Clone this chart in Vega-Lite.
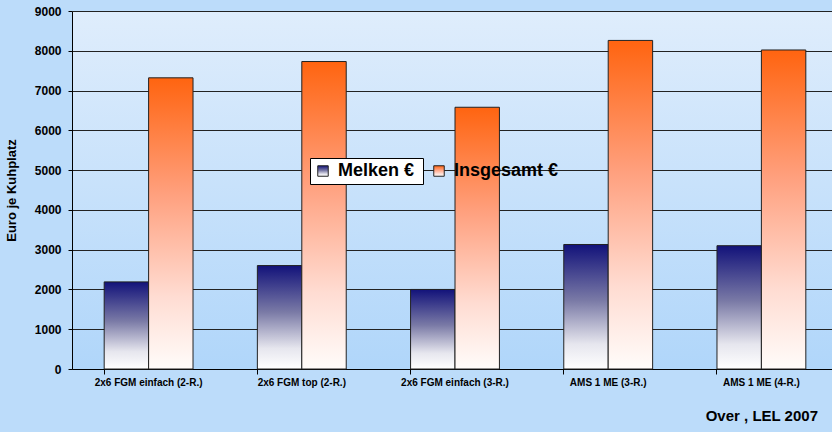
{
  "$schema": "https://vega.github.io/schema/vega-lite/v6.json",
  "autosize": {"type": "none"},
  "width": 766,
  "height": 358,
  "padding": {"left": 72, "top": 11, "right": 0, "bottom": 63},
  "background": "#bcdcfa",
  "data": {
    "values": [
      {"k": "2x6 FGM einfach (2-R.)", "s": "Melken €", "v": 2190},
      {"k": "2x6 FGM einfach (2-R.)", "s": "Insgesamt €", "v": 7320},
      {"k": "2x6 FGM top (2-R.)", "s": "Melken €", "v": 2600},
      {"k": "2x6 FGM top (2-R.)", "s": "Insgesamt €", "v": 7730},
      {"k": "2x6 FGM einfach (3-R.)", "s": "Melken €", "v": 2000},
      {"k": "2x6 FGM einfach (3-R.)", "s": "Insgesamt €", "v": 6580},
      {"k": "AMS 1 ME (3-R.)", "s": "Melken €", "v": 3130},
      {"k": "AMS 1 ME (3-R.)", "s": "Insgesamt €", "v": 8260},
      {"k": "AMS 1 ME (4-R.)", "s": "Melken €", "v": 3100},
      {"k": "AMS 1 ME (4-R.)", "s": "Insgesamt €", "v": 8020}
    ]
  },
  "title": {
    "text": "Over , LEL 2007",
    "orient": "bottom",
    "anchor": "end",
    "dx": -20,
    "offset": 22,
    "font": "Liberation Sans",
    "fontSize": 15,
    "fontWeight": "bold",
    "color": "#000000"
  },
  "encoding": {
    "x": {
      "field": "k",
      "type": "nominal",
      "sort": null,
      "title": null,
      "scale": {"paddingInner": 0.42, "paddingOuter": 0.21},
      "axis": {
        "labelAngle": 0,
        "bandPosition": 0,
        "tickSize": 5,
        "tickColor": "#000000",
        "domainColor": "#000000",
        "labelFont": "Liberation Sans",
        "labelFontSize": 10,
        "labelFontWeight": "bold",
        "labelColor": "#000000",
        "labelPadding": 3,
        "grid": false
      }
    },
    "xOffset": {"field": "s", "type": "nominal", "scale": {"domain": ["Melken €", "Insgesamt €"], "paddingInner": 0, "paddingOuter": 0}},
    "y": {
      "field": "v",
      "type": "quantitative",
      "title": "Euro je Kuhplatz",
      "scale": {"domain": [0, 9000], "nice": false},
      "axis": {
        "values": [0, 1000, 2000, 3000, 4000, 5000, 6000, 7000, 8000, 9000],
        "format": "d",
        "tickSize": 4,
        "tickColor": "#000000",
        "domainColor": "#000000",
        "gridColor": "#222222",
        "gridWidth": 1,
        "labelFont": "Liberation Sans",
        "labelFontSize": 12,
        "labelFontWeight": "bold",
        "labelColor": "#000000",
        "labelPadding": 7,
        "titleFont": "Liberation Sans",
        "titleFontSize": 13,
        "titleFontWeight": "bold",
        "titleColor": "#000000",
        "titlePadding": 16
      }
    }
  },
  "layer": [
    {
      "transform": [{"filter": "datum.s === 'Melken €'"}],
      "mark": {
        "type": "bar",
        "strokeWidth": 1,
        "fillOpacity": 1,
        "fill": {"gradient": "linear", "x1": 0, "y1": 0, "x2": 0, "y2": 1, "stops": [{"offset": 0, "color": "#12127a"}, {"offset": 0.45, "color": "#7a7aa6"}, {"offset": 0.8, "color": "#e6e6ee"}, {"offset": 1, "color": "#ffffff"}]}
      },
      "encoding": {
        "stroke": {
          "field": "s",
          "type": "nominal",
          "title": "\u00a0\u00a0\u00a0\u00a0\u00a0\u00a0\u00a0\u00a0\u00a0\u00a0\u00a0\u00a0\u00a0\u00a0\u00a0\u00a0\u00a0\u00a0\u00a0\u00a0\u00a0\u00a0\u00a0\u00a0\u00a0\u00a0\u00a0\u00a0\u00a0",
          "scale": {"domain": ["Melken €"], "range": ["#222222"]},
          "legend": {
            "orient": "none",
            "legendX": 238,
            "legendY": 147,
            "fillColor": "#ffffff",
            "strokeColor": "#000000",
            "padding": 4,
            "titleOrient": "right",
            "titleFont": "Liberation Sans",
            "titleFontSize": 18,
            "titleFontWeight": "bold",
            "titlePadding": 5,
            "symbolType": "square",
            "symbolSize": 110,
            "symbolStrokeWidth": 1,
            "labelFont": "Liberation Sans",
            "labelFontSize": 18,
            "labelFontWeight": "bold",
            "labelColor": "#000000",
            "labelOffset": 6
          }
        }
      }
    },
    {
      "transform": [{"filter": "datum.s === 'Insgesamt €'"}],
      "mark": {
        "type": "bar",
        "strokeWidth": 1,
        "fillOpacity": 1,
        "fill": {"gradient": "linear", "x1": 0, "y1": 0, "x2": 0, "y2": 1, "stops": [{"offset": 0, "color": "#ff6410"}, {"offset": 0.4, "color": "#ffa07e"}, {"offset": 0.75, "color": "#ffdcd2"}, {"offset": 1, "color": "#fffcfa"}]}
      },
      "encoding": {
        "stroke": {
          "field": "s",
          "type": "nominal",
          "title": null,
          "scale": {"domain": ["Insgesamt €"], "range": ["#222222"]},
          "legend": {
            "orient": "none",
            "legendX": 354,
            "legendY": 147,
            "padding": 4,
            "symbolType": "square",
            "symbolSize": 110,
            "symbolStrokeWidth": 1,
            "labelFont": "Liberation Sans",
            "labelFontSize": 18,
            "labelFontWeight": "bold",
            "labelColor": "#000000",
            "labelOffset": 6
          }
        }
      }
    }
  ],
  "resolve": {"scale": {"stroke": "independent"}, "legend": {"stroke": "independent"}},
  "config": {
    "view": {
      "stroke": null,
      "fill": {"gradient": "linear", "x1": 0, "y1": 0, "x2": 0, "y2": 1, "stops": [{"offset": 0, "color": "#dfedfc"}, {"offset": 1, "color": "#b0d6fa"}]}
    }
  }
}
